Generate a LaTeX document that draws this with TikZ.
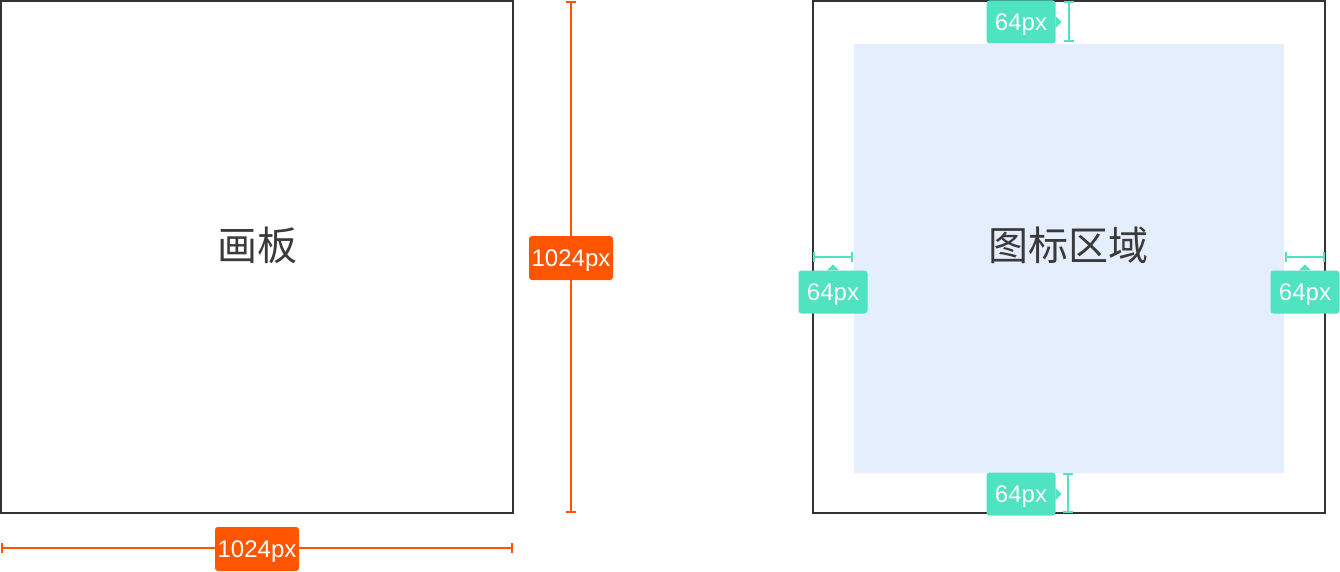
\documentclass[tikz,border=0pt]{standalone}
\usepackage{fontspec}
\newfontfamily\cjk{Noto Sans CJK SC}
\newfontfamily\lab{Liberation Sans}
\usetikzlibrary{arrows.meta}
\definecolor{frame}{HTML}{333333}
\definecolor{txt}{HTML}{3A3A3A}
\definecolor{orng}{HTML}{FF5500}
\definecolor{grn}{HTML}{50E3C2}
\definecolor{iconbg}{HTML}{E5EEFD}
\tikzset{
  canvas/.style={draw=frame,line width=2pt},
  bigtext/.style={font=\cjk\fontsize{40}{40}\selectfont,text=txt},
  dimo/.style={draw=orng,line width=2pt,{Bar[width=10pt,line width=2pt]}-{Bar[width=10pt,line width=2pt]}},
  dimg/.style={draw=grn,line width=2pt,{Bar[width=10pt,line width=2pt]}-{Bar[width=10pt,line width=2pt]}},
  olabel/.style={fill=orng,rounded corners=3pt,text=white,font=\lab\fontsize{24}{24}\selectfont,minimum width=84pt,minimum height=44pt,inner sep=0pt,text height=17pt,text depth=0pt},
  glabel/.style={fill=grn,rounded corners=3pt,text=white,font=\lab\fontsize{24}{24}\selectfont,minimum width=69pt,minimum height=43pt,inner sep=0pt,text height=17pt,text depth=0pt},
}
\begin{document}
\begin{tikzpicture}[x=1pt,y=-1pt]
\useasboundingbox (0,0) rectangle (1340,572);
% left canvas
\draw[canvas] (1,1) rectangle (513,513);
\node[bigtext] (board) at (257,245) {画板};
% vertical orange dimension
\coordinate (vt) at (571,1);
\coordinate (vb) at (571,513);
\draw[dimo] (vt) -- (vb);
\node[olabel] (vlab) at (571,258) {1024px};
% horizontal orange dimension
\coordinate (hl) at (1,548);
\coordinate (hr) at (513,548);
\draw[dimo] (hl) -- (hr);
\node[olabel] (hlab) at (257,549) {1024px};
% right canvas
\draw[canvas] (813,1) rectangle (1325,513);
\fill[iconbg] (854,44) rectangle (1284,473);
\node[bigtext] (icon) at (1068,245) {图标区域};
% top green
\coordinate (tt) at (1069,1);
\coordinate (tb) at (1069,42);
\draw[dimg] (tt) -- (tb);
\node[glabel] (tlab) at (1021,22) {64px};
\fill[grn] ([yshift=-6pt]tlab.east) -- ([xshift=6pt]tlab.east) -- ([yshift=6pt]tlab.east) -- cycle;
% bottom green
\coordinate (bt) at (1068,473);
\coordinate (bb) at (1068,513);
\draw[dimg] (bt) -- (bb);
\node[glabel] (blab) at (1021,494) {64px};
\fill[grn] ([yshift=-6pt]blab.east) -- ([xshift=6pt]blab.east) -- ([yshift=6pt]blab.east) -- cycle;
% left green
\coordinate (ll) at (813,257);
\coordinate (lr) at (853,257);
\draw[dimg] (ll) -- (lr);
\node[glabel] (llab) at (833,292) {64px};
\fill[grn] ([xshift=-6pt]llab.north) -- ([yshift=6pt]llab.north) -- ([xshift=6pt]llab.north) -- cycle;
% right green
\coordinate (rl) at (1285,257);
\coordinate (rr) at (1325,257);
\draw[dimg] (rl) -- (rr);
\node[glabel] (rlab) at (1305,292) {64px};
\fill[grn] ([xshift=-6pt]rlab.north) -- ([yshift=6pt]rlab.north) -- ([xshift=6pt]rlab.north) -- cycle;
\end{tikzpicture}
\end{document}
